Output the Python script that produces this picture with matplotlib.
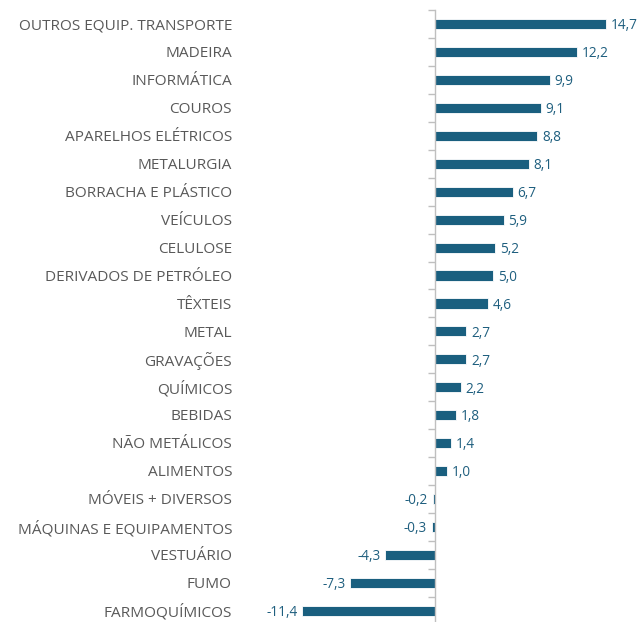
import matplotlib
matplotlib.use("Agg")
import matplotlib.pyplot as plt
import matplotlib.transforms as mtransforms

categories = ["OUTROS EQUIP. TRANSPORTE", "MADEIRA", "INFORMÁTICA", "COUROS",
              "APARELHOS ELÉTRICOS", "METALURGIA", "BORRACHA E PLÁSTICO", "VEÍCULOS",
              "CELULOSE", "DERIVADOS DE PETRÓLEO", "TÊXTEIS", "METAL", "GRAVAÇÕES",
              "QUÍMICOS", "BEBIDAS", "NÃO METÁLICOS", "ALIMENTOS", "MÓVEIS + DIVERSOS",
              "MÁQUINAS E EQUIPAMENTOS", "VESTUÁRIO", "FUMO", "FARMOQUÍMICOS"]
values = [14.7, 12.2, 9.9, 9.1, 8.8, 8.1, 6.7, 5.9, 5.2, 5.0, 4.6, 2.7, 2.7,
          2.2, 1.8, 1.4, 1.0, -0.2, -0.3, -4.3, -7.3, -11.4]

W, H = 638, 622
plt.rcParams['font.family'] = ['Open Sans', 'DejaVu Sans']
fig = plt.figure(figsize=(W/100, H/100), dpi=100)

n = len(categories)
top_px, step = 10, 27.95
bottom_px = top_px + n*step
left_px, right_px = 260, 638
ax = fig.add_axes([left_px/W, 1-bottom_px/H, (right_px-left_px)/W, (bottom_px-top_px)/H])
ax.patch.set_alpha(0)

scale = 11.63
ax.set_xlim((left_px-435)/scale, (right_px-435)/scale)
ax.set_ylim(n-0.5, -0.5)

bar_color = "#1A5F7F"
ypos = list(range(n))
ax.barh(ypos, values, height=0.36, color=bar_color, edgecolor="white", linewidth=0.6)

for y, v in zip(ypos, values):
    txt = f"{v:.1f}".replace(".", ",")
    if v >= 0:
        ax.text(v + 0.4, y + 0.06, txt, ha="left", va="center", fontsize=9.8, color="#1F5F7F")
    else:
        ax.text(v - 0.4, y + 0.06, txt, ha="right", va="center", fontsize=9.8, color="#1F5F7F")

trans = mtransforms.blended_transform_factory(fig.transFigure, ax.transData)
for y, c in zip(ypos, categories):
    ax.text(232/W, y + 0.06, c, transform=trans, ha="right", va="center",
            fontsize=11.1, color="#595959")

for s in ["top", "right", "bottom"]:
    ax.spines[s].set_visible(False)
ax.spines["left"].set_position(("data", 0))
ax.spines["left"].set_color("#BFBFBF")
ax.spines["left"].set_linewidth(1.0)
ax.set_xticks([])
ax.set_yticks([i - 0.5 for i in range(n+1)])
ax.set_yticklabels([])
ax.tick_params(axis="y", length=5, color="#BFBFBF", direction="out", width=1.0)

fig.savefig("out.png", dpi=100)
